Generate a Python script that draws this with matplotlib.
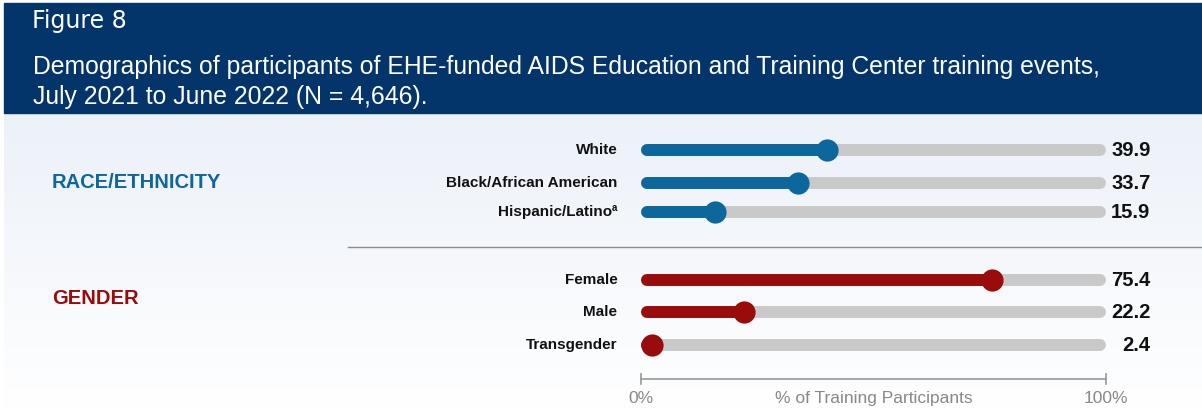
import numpy as np
import matplotlib.pyplot as plt

# ---- data ----
race_labels = ["White", "Black/African American", "Hispanic/Latino"]
race_values = [39.9, 33.7, 15.9]
gender_labels = ["Female", "Male", "Transgender"]
gender_values = [75.4, 22.2, 2.4]

title_top = "Figure 8"
title_main = ("Demographics of participants of EHE-funded AIDS Education and Training Center training events,\n"
              "July 2021 to June 2022 (N = 4,646).")

BLUE = "#0b679c"
RED = "#9a0b0b"
GRAY = "#c9c9ca"
NAVY = "#03356a"

plt.rcParams['font.family'] = ['Liberation Sans', 'DejaVu Sans']

W, H = 1202, 411
fig = plt.figure(figsize=(W / 100, H / 100), dpi=100)

# background gradient + header (pixel space)
bg = fig.add_axes([0, 0, 1, 1])
bg.set_xlim(0, W)
bg.set_ylim(H, 0)
bg.axis('off')
grad = np.linspace(0, 1, 256).reshape(-1, 1)
top = np.array([0.925, 0.945, 0.975])
bot = np.array([1.0, 1.0, 1.0])
img = top + (bot - top) * grad[..., None]
bg.imshow(img, extent=(4, W, H, 112), aspect='auto', zorder=0)
bg.add_patch(plt.Rectangle((4, 3), W - 4, 110, color=NAVY, zorder=1))
bg.text(32, 21, title_top, color='white', fontsize=17, va='center',
        family=['DejaVu Sans'])
bg.text(33, 82, title_main, color='white', fontsize=17.8, va='center', linespacing=1.28)
bg.text(52, 182, "RACE/ETHNICITY", color=BLUE, fontsize=14.5, fontweight='bold', va='center')
bg.text(52, 298, "GENDER", color=RED, fontsize=14.5, fontweight='bold', va='center')
bg.plot([348, W], [247, 247], color='#8a8a8a', lw=1)

# chart axes: x 0..100 spans 641..1106 px
ax = fig.add_axes([641 / W, 0, 465 / W, 1])
ax.set_xlim(0, 100)
ax.set_ylim(H, 0)
ax.axis('off')

race_y = [150, 183, 212]
gender_y = [280, 312, 345]

bar_lw = 8.6
cap = 6 / 4.65  # half bar height in data units

def draw_rows(labels, values, ys, color):
    for lab, v, y in zip(labels, values, ys):
        ax.plot([cap, 100 - cap], [y, y], color=GRAY, lw=bar_lw,
                solid_capstyle='round', zorder=2, clip_on=False)
        ax.plot([cap, max(v, cap)], [y, y], color=color, lw=bar_lw,
                solid_capstyle='round', zorder=3, clip_on=False)
        ax.plot([v], [y], 'o', color=color, ms=16, mec='none', zorder=4, clip_on=False)
        # value label right-aligned in a fixed column
        ax.annotate(f"{v:.1f}", xy=(100, y), xytext=(32, 0), textcoords='offset points',
                    ha='right', va='center', fontsize=14.5, fontweight='bold',
                    color='#111111', annotation_clip=False)
        if lab == "Hispanic/Latino":
            ax.annotate(lab, xy=(0, y), xytext=(-20.5, 0), textcoords='offset points',
                        ha='right', va='center', fontsize=11, fontweight='bold',
                        color='#111111', annotation_clip=False)
            ax.annotate("a", xy=(0, y), xytext=(-17, 3), textcoords='offset points',
                        ha='right', va='center', fontsize=7, fontweight='bold',
                        color='#111111', annotation_clip=False)
        else:
            ax.annotate(lab, xy=(0, y), xytext=(-17, 0), textcoords='offset points',
                        ha='right', va='center', fontsize=11, fontweight='bold',
                        color='#111111', annotation_clip=False)

draw_rows(race_labels, race_values, race_y, BLUE)
draw_rows(gender_labels, gender_values, gender_y, RED)

# bottom axis
ax.plot([0, 100], [379, 379], color='#999999', lw=1.2, clip_on=False)
for xv in [0, 100]:
    ax.plot([xv, xv], [374, 384], color='#999999', lw=1.2, clip_on=False)
ax.text(0, 398, "0%", ha='center', va='center', fontsize=12.5, color='#888888')
ax.text(100, 398, "100%", ha='center', va='center', fontsize=12.5, color='#888888')
ax.text(50, 398, "% of Training Participants", ha='center', va='center',
        fontsize=12.5, color='#888888')

fig.savefig("out.png", dpi=100)
